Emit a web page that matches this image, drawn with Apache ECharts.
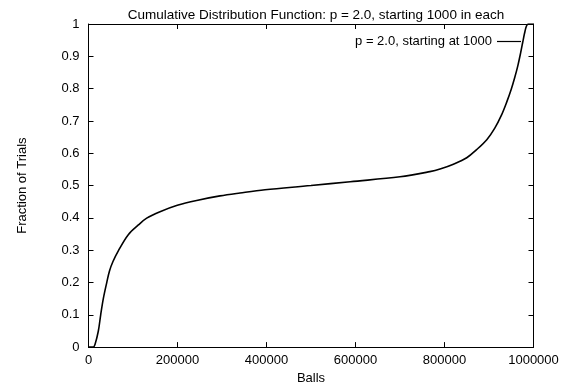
<!DOCTYPE html>
<html><head><meta charset="utf-8">
<script src="https://cdn.jsdelivr.net/npm/echarts@6/dist/echarts.min.js"></script>
<style>html,body{margin:0;padding:0;background:#fff}#c{width:570px;height:390px}</style>
</head><body><div id="c"></div>
<script>
const titleText = "Cumulative Distribution Function: p = 2.0, starting 1000 in each";
const seriesName = "p = 2.0, starting at 1000";
const xName = "Balls";
const yName = "Fraction of Trials";
const balls = [0, 10800, 14600, 22000, 27400, 33300, 40900, 47000, 55000, 67000, 89400, 112000, 130800, 160700, 199600, 243000, 295500, 340400, 396600, 500000, 588000, 700000, 767000, 790000, 820000, 850000, 872000, 895000, 913000, 928000, 940000, 950000, 958000, 965000, 971000, 976000, 980000, 984000, 988000, 1000000];
const fraction = [0, 0, 0.008, 0.049, 0.1, 0.15, 0.199, 0.235, 0.265, 0.298, 0.348, 0.378, 0.399, 0.419, 0.439, 0.454, 0.468, 0.477, 0.487, 0.5, 0.512, 0.527, 0.543, 0.551, 0.566, 0.586, 0.611, 0.642, 0.678, 0.718, 0.759, 0.798, 0.835, 0.872, 0.91, 0.945, 0.972, 0.993, 1, 1];

const FONT = "Liberation Sans, Arial, sans-serif";
const FS = 13;
const chart = echarts.init(document.getElementById('c'), null, {renderer: 'canvas'});
const tickStyle = {show: true, inside: true, length: 5, lineStyle: {color: '#000', width: 1}};
const lineStyle = {show: true, onZero: false, lineStyle: {color: '#000', width: 1}};
chart.setOption({
  animation: false,
  backgroundColor: '#fff',
  textStyle: {fontFamily: FONT, color: '#000'},
  title: {text: titleText, left: 311, top: 3, textAlign: 'center',
    textStyle: {fontFamily: FONT, fontSize: 13.5, fontWeight: 'normal', color: '#000'}},
  legend: {data: [seriesName], right: 49, top: 35, padding: 0, align: 'right', icon: 'rect',
    itemWidth: 24, itemHeight: 1.2, textStyle: {fontFamily: FONT, fontSize: FS, color: '#000'}},
  grid: {left: 88.5, right: 36.5, top: 24, bottom: 37, containLabel: false},
  xAxis: [
    {type: 'value', min: 0, max: 1000000, interval: 200000, position: 'bottom',
     name: xName, nameLocation: 'middle', nameGap: 23,
     nameTextStyle: {fontFamily: FONT, fontSize: FS, color: '#000'},
     axisLine: lineStyle, axisTick: tickStyle, splitLine: {show: false},
     axisLabel: {fontFamily: FONT, fontSize: FS, color: '#000', margin: 7, formatter: v => String(v)}},
    {type: 'value', min: 0, max: 1000000, interval: 200000, position: 'top',
     axisLine: lineStyle, axisTick: tickStyle, splitLine: {show: false}, axisLabel: {show: false}}
  ],
  yAxis: [
    {type: 'value', min: 0, max: 1, interval: 0.1, position: 'left',
     name: yName, nameLocation: 'middle', nameGap: 60, nameRotate: 90,
     nameTextStyle: {fontFamily: FONT, fontSize: FS, color: '#000'},
     axisLine: lineStyle, axisTick: tickStyle, splitLine: {show: false},
     axisLabel: {fontFamily: FONT, fontSize: FS, color: '#000', margin: 9, formatter: v => String(v)}},
    {type: 'value', min: 0, max: 1, interval: 0.1, position: 'right',
     axisLine: lineStyle, axisTick: tickStyle, splitLine: {show: false}, axisLabel: {show: false}}
  ],
  series: [{
    name: seriesName, type: 'line', xAxisIndex: 0, yAxisIndex: 0,
    data: balls.map((b, i) => [b, fraction[i]]),
    showSymbol: false, smooth: 0.35, lineStyle: {color: '#000', width: 1.6}, itemStyle: {color: '#000'}
  }]
});
</script></body></html>
